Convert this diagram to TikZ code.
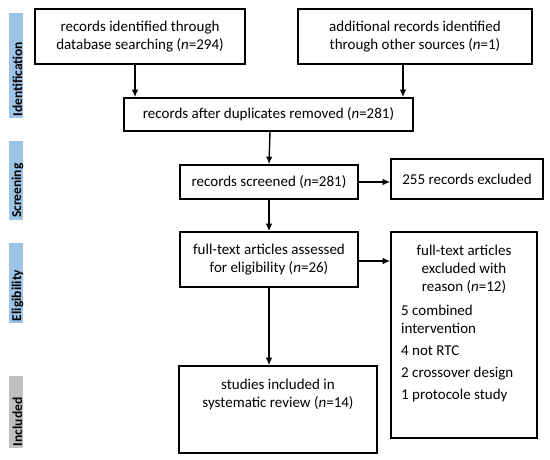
\documentclass[tikz,border=0pt]{standalone}
\usepackage{fontspec}
\setmainfont{Carlito}
\usetikzlibrary{arrows.meta}
\begin{document}
\begin{tikzpicture}[x=1pt,y=-1pt,
  box/.style={draw, line width=1.6pt, rectangle, inner sep=2pt, align=center,
    font=\fontsize{15}{18}\selectfont},
  bar/.style={inner sep=0pt, minimum width=14pt},
  bartext/.style={rotate=90, anchor=west, inner sep=0pt,
    font=\fontsize{13.5}{15}\selectfont\bfseries},
  arr/.style={line width=1.4pt, -{Latex[length=7.5pt,width=6.5pt]}},
  txt/.style={inner sep=0pt, font=\fontsize{15}{18}\selectfont}
]
\useasboundingbox (0,0) rectangle (550,460);
\definecolor{barblue}{HTML}{9DC3E6}
\definecolor{bargray}{HTML}{BFBFBF}

% side bars
\node[bar, fill=barblue, minimum height=105pt] (sId) at (16,66) {};
\node[bar, fill=barblue, minimum height=79pt] (sSc) at (16,180.5) {};
\node[bar, fill=barblue, minimum height=80pt] (sEl) at (16,283) {};
\node[bar, fill=bargray, minimum height=72pt] (sIn) at (16,412) {};
\node[bartext] (tId) at ([xshift=1.5pt,yshift=2pt]sId.south) {Identification};
\node[bartext] (tSc) at ([xshift=1.5pt,yshift=2pt]sSc.south) {Screening};
\node[bartext] (tEl) at ([xshift=1.5pt,yshift=2pt]sEl.south) {Eligibility};
\node[bartext] (tIn) at ([xshift=1.5pt,yshift=2pt]sIn.south) {Included};

% boxes
\node[box, minimum width=210pt, minimum height=55pt] (b1) at (140,36.5)
  {records identified through\\database searching (\textit{n}=294)};
\node[box, minimum width=234pt, minimum height=55pt] (b2) at (415,36.5)
  {additional records identified\\through other sources (\textit{n}=1)};
\node[box, minimum width=289pt, minimum height=33pt] (b3) at (268.5,114.5)
  {records after duplicates removed (\textit{n}=281)};
\node[box, minimum width=178pt, minimum height=34pt] (b4) at (269,182)
  {records screened (\textit{n}=281)};
\node[box, minimum width=152pt, minimum height=40pt] (b5) at (467,179)
  {255 records excluded};
\node[box, minimum width=178pt, minimum height=55pt] (b6) at (269,259.5)
  {full-text articles assessed\\for eligibility (\textit{n}=26)};
\node[box, minimum width=146pt, minimum height=206pt] (b7) at (464,335) {};
\node[box, minimum width=198pt, minimum height=87pt] (b8) at (278,409.5) {};

\node[txt, align=center, anchor=north] (t8) at (278,379)
  {studies included in\\systematic review (\textit{n}=14)};
\node[txt, align=center, anchor=north] (t7a) at (464,245)
  {full-text articles\\excluded with\\reason (\textit{n}=12)};
\node[txt, align=left, anchor=north west] (t7b) at (401,305)
  {5 combined\\intervention\\[4pt]4 not RTC\\[4pt]2 crossover design\\[4pt]1 protocole study};

% arrows
\draw[arr] ([xshift=-5pt]b1.south) -- ([xshift=-5pt]b1.south |- b3.north);
\draw[arr] ([xshift=-12pt]b2.south) -- ([xshift=-12pt]b2.south |- b3.north);
\draw[arr] ([xshift=1.5pt]b3.south) -- (b4.north);
\draw[arr] (b4.east) -- (b4.east -| b5.west);
\draw[arr] (b4.south) -- (b6.north);
\draw[arr] ([yshift=-1.5pt]b6.east) -- ([yshift=-1.5pt]b6.east -| b7.west);
\draw[arr] (b6.south) -- (b6.south |- b8.north);
\end{tikzpicture}
\end{document}
